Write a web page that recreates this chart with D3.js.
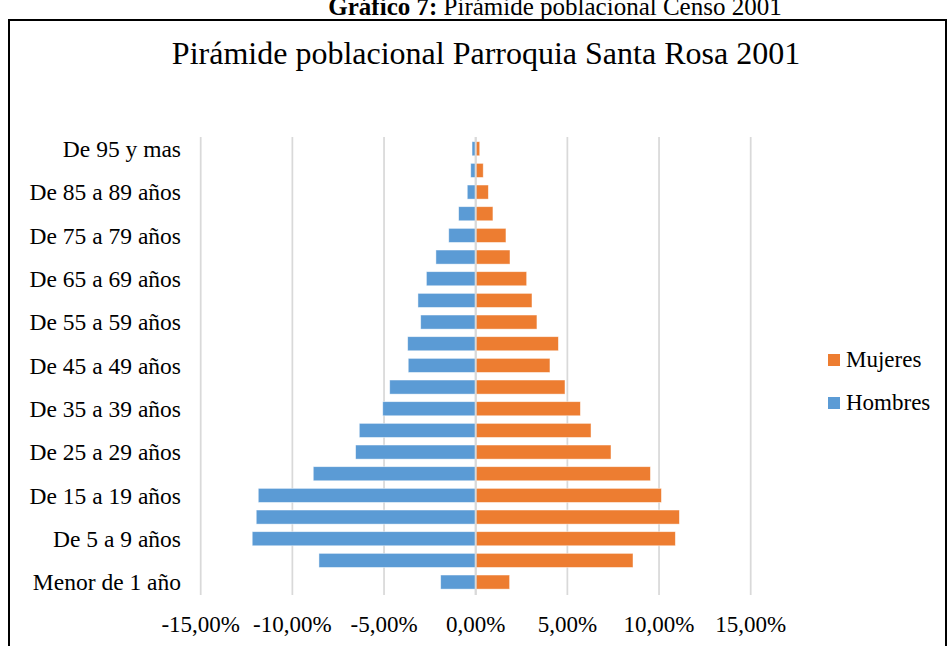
<!DOCTYPE html>
<html>

<head>
	<title>piramide 2001</title>
	<meta charset="utf-8">
	<script src="https://d3js.org/d3.v7.min.js" charset="utf-8"></script>
	<style type="text/css">
		body {
			margin: 0;
			background: white;
		}

		svg text,
		svg tspan {
			font-family: 'Liberation Serif', 'Times New Roman', serif;
			fill: black;
		}
	</style>
</head>

<body>
	<script type="text/javascript">
		var w = 949;
		var h = 646;

		// grupos de edad, de abajo hacia arriba
		var grupos = ["Menor de 1 año", "De 1 a 4 años", "De 5 a 9 años", "De 10 a 14 años",
			"De 15 a 19 años", "De 20 a 24 años", "De 25 a 29 años", "De 30 a 34 años",
			"De 35 a 39 años", "De 40 a 44 años", "De 45 a 49 años", "De 50 a 54 años",
			"De 55 a 59 años", "De 60 a 64 años", "De 65 a 69 años", "De 70 a 74 años",
			"De 75 a 79 años", "De 80 a 84 años", "De 85 a 89 años", "De 90 a 94 años",
			"De 95 y mas"];

		// porcentajes (hombres en negativo)
		var hombres = [-1.91, -8.55, -12.19, -11.97, -11.86, -8.86, -6.55, -6.35, -5.07, -4.69,
			-3.68, -3.71, -3.00, -3.15, -2.69, -2.17, -1.47, -0.93, -0.46, -0.27, -0.20];
		var mujeres = [1.85, 8.58, 10.89, 11.11, 10.13, 9.53, 7.38, 6.29, 5.71, 4.87,
			4.05, 4.51, 3.34, 3.07, 2.78, 1.87, 1.65, 0.94, 0.69, 0.41, 0.22];

		var ticks = [-15, -10, -5, 0, 5, 10, 15];

		var tituloFig = "Pirámide poblacional Censo 2001";
		var titulo = "Pirámide poblacional Parroquia Santa Rosa 2001";
		var serieNombres = ["Mujeres", "Hombres"];
		var colores = ["#ED7D31", "#5B9BD5"];

		var locale = d3.formatLocale({
			decimal: ",",
			thousands: ".",
			grouping: [3],
			currency: ["$", ""],
			minus: "-"
		});
		var fmt = locale.format(".2f");

		var svg = d3.select('body')
			.append('svg')
			.attr('width', w)
			.attr('height', h);

		// titulo de la figura (cortado arriba, como en el documento)
		var tf = svg.append('text')
			.attr('x', 555)
			.attr('y', 15)
			.attr('text-anchor', 'middle')
			.style('font-family', "'Liberation Serif', serif")
			.style('font-size', '25px');
		tf.append('tspan').style('font-weight', 'bold').text('Gráfico 7:');
		tf.append('tspan').text(' ' + tituloFig);

		// marco
		svg.append('rect')
			.attr('x', 9)
			.attr('y', 20)
			.attr('width', 937)
			.attr('height', 640)
			.attr('fill', 'none')
			.attr('stroke', 'black')
			.attr('stroke-width', 2);

		svg.append('text')
			.attr('x', 486)
			.attr('y', 64)
			.attr('text-anchor', 'middle')
			.style('font-size', '32px')
			.text(titulo);

		var x = d3.scaleLinear()
			.domain([-15, 15])
			.range([200.7, 750.7]);

		var y = d3.scaleBand()
			.domain(grupos.slice().reverse())
			.range([137.9, 592.9])
			.paddingInner(0.35)
			.paddingOuter(0.175);

		// lineas de cuadricula
		svg.append('g')
			.selectAll('line')
			.data(ticks)
			.enter()
			.append('line')
			.attr('x1', function (d) { return x(d); })
			.attr('x2', function (d) { return x(d); })
			.attr('y1', 137)
			.attr('y2', 595)
			.attr('stroke', '#d9d9d9')
			.attr('stroke-width', 1.75);

		var datos = grupos.map(function (g, i) {
			return { grupo: g, h: hombres[i], m: mujeres[i] };
		});

		svg.append('g')
			.selectAll('rect')
			.data(datos)
			.enter()
			.append('rect')
			.attr('x', function (d) { return x(d.h); })
			.attr('y', function (d) { return y(d.grupo); })
			.attr('width', function (d) { return x(0) - x(d.h); })
			.attr('height', y.bandwidth())
			.attr('fill', colores[1])
			.attr('stroke', 'white')
			.attr('stroke-opacity', 0.6)
			.attr('stroke-width', 0.75);

		svg.append('g')
			.selectAll('rect')
			.data(datos)
			.enter()
			.append('rect')
			.attr('x', x(0))
			.attr('y', function (d) { return y(d.grupo); })
			.attr('width', function (d) { return x(d.m) - x(0); })
			.attr('height', y.bandwidth())
			.attr('fill', colores[0])
			.attr('stroke', 'white')
			.attr('stroke-opacity', 0.6)
			.attr('stroke-width', 0.75);

		// eje vertical en 0
		svg.append('line')
			.attr('x1', x(0))
			.attr('x2', x(0))
			.attr('y1', 137)
			.attr('y2', 595)
			.attr('stroke', '#d9d9d9')
			.attr('stroke-width', 2);

		// etiquetas del eje y (una si, una no)
		svg.append('g')
			.selectAll('text')
			.data(grupos.filter(function (d, i) { return i % 2 == 0; }))
			.enter()
			.append('text')
			.attr('x', 181)
			.attr('y', function (d) { return y(d) + y.bandwidth() / 2; })
			.attr('dy', '0.35em')
			.attr('text-anchor', 'end')
			.style('font-size', '23.5px')
			.text(function (d) { return d; });

		// etiquetas del eje x
		svg.append('g')
			.selectAll('text')
			.data(ticks)
			.enter()
			.append('text')
			.attr('x', function (d) { return x(d); })
			.attr('y', 632)
			.attr('text-anchor', 'middle')
			.style('font-size', '23px')
			.text(function (d) { return fmt(d) + '%'; });

		// leyenda
		var ley = svg.append('g')
			.selectAll('g')
			.data(serieNombres)
			.enter()
			.append('g')
			.attr('transform', function (d, i) {
				return 'translate(828,' + (354 + i * 43) + ')';
			});
		ley.append('rect')
			.attr('width', 12)
			.attr('height', 12)
			.attr('fill', function (d, i) { return colores[i]; });
		ley.append('text')
			.attr('x', 18)
			.attr('y', 13)
			.style('font-size', '23px')
			.text(function (d) { return d; });
	</script>
</body>

</html>
